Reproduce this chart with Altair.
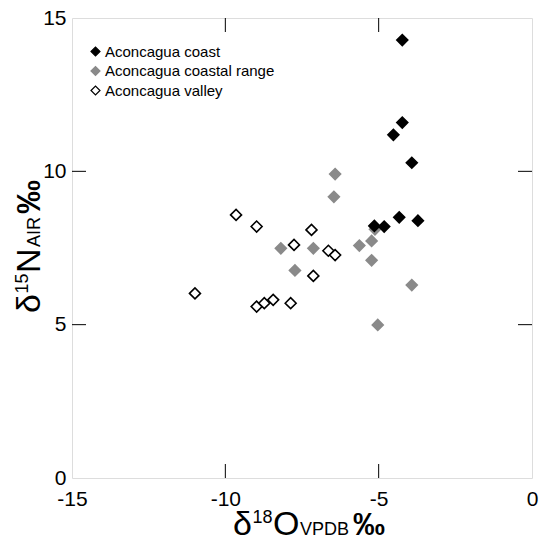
import altair as alt
import pandas as pd

# ---- data ----
coast_x = [-4.23, -4.23, -4.52, -3.92, -4.33, -3.72, -4.82, -5.14]
coast_y = [14.28, 11.59, 11.19, 10.28, 8.50, 8.39, 8.20, 8.22]

range_x = [-6.42, -6.46, -5.12, -5.23, -5.63, -5.23, -3.92, -5.03, -7.13, -8.19, -7.73]
range_y = [9.91, 9.17, 8.11, 7.73, 7.58, 7.10, 6.29, 4.99, 7.49, 7.49, 6.77]

valley_x = [-9.65, -8.98, -7.19, -7.76, -6.64, -6.42, -7.13, -10.99, -8.98, -8.73, -8.44, -7.87]
valley_y = [8.58, 8.20, 8.09, 7.60, 7.41, 7.27, 6.59, 6.02, 5.59, 5.70, 5.81, 5.70]

groups = ["Aconcagua coast", "Aconcagua coastal range", "Aconcagua valley"]
x_ticks = [-15, -10, -5, 0]
y_ticks = [0, 5, 10, 15]

rows = []
for g, xs_, ys_ in zip(groups, [coast_x, range_x, valley_x], [coast_y, range_y, valley_y]):
    for a, b in zip(xs_, ys_):
        rows.append({"group": g, "d18O": a, "d15N": b})
df = pd.DataFrame(rows)

FONT = "Liberation Sans"
W, H = 460, 460

xs = alt.Scale(domain=[-15, 0], nice=False, zero=False)
ys = alt.Scale(domain=[0, 15], nice=False, zero=False)

legend = alt.Legend(title=None, orient="none", legendX=16, legendY=26,
                    labelFont=FONT, labelFontSize=15, labelColor="black", labelLimit=0,
                    symbolSize=80, symbolStrokeWidth=1.2, rowPadding=3.5,
                    labelOffset=2, symbolType="diamond")

points = alt.Chart(df).mark_point(shape="diamond", size=120, strokeWidth=1.6, opacity=1, filled=False).encode(
    x=alt.X("d18O:Q", scale=xs,
            axis=alt.Axis(values=x_ticks, title=None, tickSize=0, domain=False, grid=False,
                          labelFontSize=21, labelFont=FONT, labelColor="black",
                          labelFlush=False, labelOverlap=False, labelPadding=10,
                          labelExpr="datum.value + ''")),
    y=alt.Y("d15N:Q", scale=ys,
            axis=alt.Axis(values=y_ticks, title=None, tickSize=0, domain=False, grid=False,
                          labelFontSize=21, labelFont=FONT, labelColor="black",
                          labelFlush=False, labelOverlap=False, labelPadding=6,
                          labelExpr="datum.value + ''", labelBaseline="middle")),
    fill=alt.Fill("group:N", scale=alt.Scale(domain=groups, range=["#000000", "#8a8a8a", "#ffffff"]),
                  legend=legend),
    stroke=alt.Stroke("group:N", scale=alt.Scale(domain=groups, range=["#000000", "#8a8a8a", "#000000"]),
                      legend=legend),
    order=alt.Order("group:N", sort="descending"),
)

tick_df_x = pd.DataFrame({"v": x_ticks[1:-1]})
tick_df_y = pd.DataFrame({"v": y_ticks[1:-1]})
TL = 14
bottom_ticks = alt.Chart(tick_df_x).mark_rule(color="black", strokeWidth=1).encode(
    x=alt.X("v:Q", scale=xs), y=alt.value(H), y2=alt.value(H - TL))
top_ticks = alt.Chart(tick_df_x).mark_rule(color="black", strokeWidth=1).encode(
    x=alt.X("v:Q", scale=xs), y=alt.value(0), y2=alt.value(TL))
left_ticks = alt.Chart(tick_df_y).mark_rule(color="black", strokeWidth=1).encode(
    y=alt.Y("v:Q", scale=ys), x=alt.value(0), x2=alt.value(TL))
right_ticks = alt.Chart(tick_df_y).mark_rule(color="black", strokeWidth=1).encode(
    y=alt.Y("v:Q", scale=ys), x=alt.value(W), x2=alt.value(W - TL))

one = alt.Data(values=[{}])

def txt(s, x, y, size, angle=0, bold=False):
    return alt.Chart(one).mark_text(text=s, font=FONT, fontSize=size, align="left", baseline="alphabetic",
                                    angle=angle, fontWeight="bold" if bold else "normal",
                                    color="black").encode(x=alt.value(x), y=alt.value(y))

BIG, SMALL = 34, 18
# x-axis title pieces laid out left to right
xt = [
    txt("δ", 161, 517, BIG),
    txt("18", 180.5, 505, SMALL),
    txt("O", 201, 517, BIG),
    txt("VPDB", 228, 517, SMALL),
    txt("‰", 281, 517, 32, bold=True),
]
# y-axis title pieces laid out bottom to top
yt = [
    txt("δ", -32, 295, BIG, angle=270),
    txt("15", -44, 275.5, SMALL, angle=270),
    txt("N", -32, 255, BIG, angle=270),
    txt("AIR", -32, 229, SMALL, angle=270),
    txt("‰", -32, 196, BIG, angle=270, bold=True),
]

chart = alt.layer(bottom_ticks, top_ticks, left_ticks, right_ticks, points, *xt, *yt).properties(
    width=W, height=H,
    padding={"left": 72, "top": 18, "right": 7, "bottom": 65},
    autosize=alt.AutoSizeParams(type="none"),
).configure_view(stroke="black", strokeWidth=1.2).configure(background="white")

chart.save("out.html", embed_options={"renderer": "svg", "actions": False})
